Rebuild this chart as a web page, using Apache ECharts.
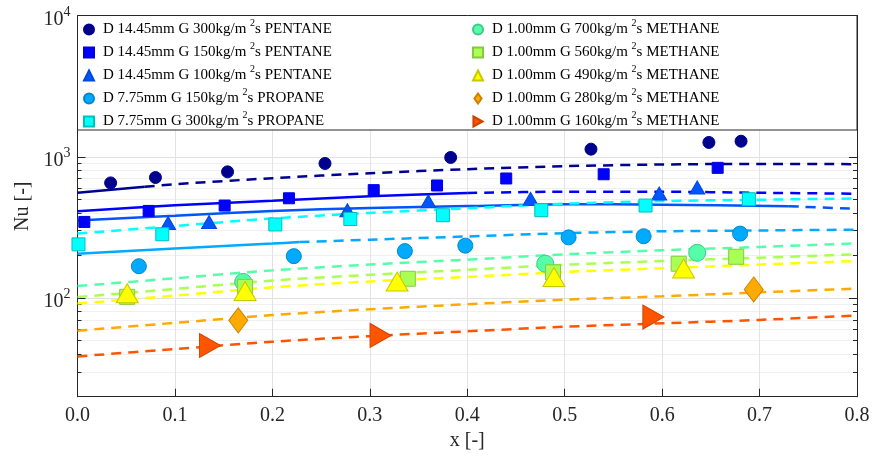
<!DOCTYPE html>
<html><head><meta charset="utf-8">
<script src="https://cdn.jsdelivr.net/npm/echarts@6/dist/echarts.min.js"></script>
<style>html,body{margin:0;padding:0;background:#fff}#c{width:874px;height:463px}</style>
</head><body><div id="c"></div>
<script>
// ---------- data ----------
const names = [
  'D 14.45mm G 300kg/m 2s PENTANE',
  'D 14.45mm G 150kg/m 2s PENTANE',
  'D 14.45mm G 100kg/m 2s PENTANE',
  'D 7.75mm G 150kg/m 2s PROPANE',
  'D 7.75mm G 300kg/m 2s PROPANE',
  'D 1.00mm G 700kg/m 2s METHANE',
  'D 1.00mm G 560kg/m 2s METHANE',
  'D 1.00mm G 490kg/m 2s METHANE',
  'D 1.00mm G 280kg/m 2s METHANE',
  'D 1.00mm G 160kg/m 2s METHANE'
];
const colors = ['#00008F','#0000FF','#0055FF','#00AAFF','#00FFFF','#55FFAA','#AAFF55','#FFFF00','#FFAA00','#FF5500'];
const edgeColors = ['#00008F','#0000E0','#0048D8','#0088CC','#00BFBF','#40C888','#88C840','#C8C800','#C88400','#D04400'];

// measured points
const s1x = [0.034, 0.080, 0.154, 0.254, 0.383, 0.527, 0.648, 0.681];
const s1y = [654, 714, 783, 898, 990, 1134, 1265, 1291];
const s2x = [0.007, 0.073, 0.151, 0.217, 0.304, 0.369, 0.440, 0.540, 0.657];
const s2y = [346, 414, 452, 509, 581, 627, 703, 753, 836];
const s3x = [0.093, 0.135, 0.277, 0.360, 0.465, 0.597, 0.636];
const s3y = [340, 346, 419, 485, 504, 550, 607];
const s4x = [0.063, 0.222, 0.336, 0.398, 0.504, 0.581, 0.680];
const s4y = [168, 198, 215, 235, 269, 274, 286];
const s5x = [0.001, 0.087, 0.203, 0.280, 0.375, 0.476, 0.583, 0.689];
const s5y = [240, 283, 332, 363, 386, 419, 452, 501];
const s6x = [0.170, 0.480, 0.636];
const s6y = [130, 175, 209];
const s7x = [0.051, 0.172, 0.339, 0.488, 0.617, 0.676];
const s7y = [102, 120, 137, 152, 175, 196];
const s8x = [0.051, 0.172, 0.328, 0.489, 0.622];
const s8y = [108, 112, 131, 141, 162];
const s9x = [0.165, 0.694];
const s9y = [69.5, 115];
const s10x = [0.136, 0.311, 0.591];
const s10y = [46.1, 54.3, 73.3];

// correlation curves
const fitX = [0, 0.1, 0.2, 0.3, 0.4, 0.5, 0.6, 0.7, 0.8];
const fit1X = [0, 0.069, 0.1, 0.2, 0.3, 0.4, 0.5, 0.6, 0.7, 0.8];
const fit1Y = [556, 613, 640, 706, 766, 818, 859, 883, 891, 888];
const fit2Y = [412, 454, 489, 526, 555, 566, 566, 557, 548];
const fit3X = [0, 0.1, 0.2, 0.3, 0.4, 0.5, 0.6, 0.73, 0.8];
const fit3Y = [354, 383, 414, 434, 448, 462, 458, 447, 428];
const fit4X = [0, 0.1, 0.2, 0.228, 0.3, 0.4, 0.5, 0.6, 0.7, 0.8];
const fit4Y = [206, 224, 243, 249, 259, 273, 288, 297, 301, 305];
const fit5Y = [286, 324, 366, 401, 432, 466, 486, 497, 507];
const fit6Y = [121.6, 138, 157, 172.6, 187, 204, 218, 230, 244];
const fit7Y = [101.6, 116, 133, 146, 158.5, 172, 183, 193, 204];
const fit8Y = [91.3, 104, 119, 131, 141, 153, 162.5, 172.5, 183];
const fit9Y = [58.7, 66.7, 75.7, 83.3, 90.4, 97.4, 102.8, 109.7, 116.6];
const fit10Y = [38.6, 43.5, 49, 53.7, 58.1, 62.6, 66.2, 70, 75.2];
const solidUntil = [0.069, 0.4, 0.73, 0.228, 0, 0, 0, 0, 0, 0];

const xTickLabels = ['0.0','0.1','0.2','0.3','0.4','0.5','0.6','0.7','0.8'];
const majorTicks = [100, 1000, 10000];
const minorTicks = [20,30,40,50,60,70,80,90,200,300,400,500,600,700,800,900,2000,3000,4000,5000,6000,7000,8000,9000];

// ---------- build ----------
const ptsX = [s1x,s2x,s3x,s4x,s5x,s6x,s7x,s8x,s9x,s10x];
const ptsY = [s1y,s2y,s3y,s4y,s5y,s6y,s7y,s8y,s9y,s10y];
const curX = [fit1X, fitX, fit3X, fit4X, fitX, fitX, fitX, fitX, fitX, fitX];
const curY = [fit1Y, fit2Y, fit3Y, fit4Y, fit5Y, fit6Y, fit7Y, fit8Y, fit9Y, fit10Y];
const symbols = ['circle','rect','triangle','circle','rect','circle','rect','triangle','diamond','triangle'];
const sizes = [12, 11, [15,13], 15, 13, 17, 15, [22,19], [19,25], [24,21]];
const rotates = [0,0,0,0,0,0,0,0,0,-90];
const legendIcons = ['circle','rect','triangle','circle','rect','circle','rect','triangle',
  'path://M5,0L10,7L5,14L0,7Z', 'path://M0,0L11,6L0,12Z'];

const FONT = "'Liberation Serif', 'Times New Roman', serif";
const zip = (a, b) => a.map((v, i) => [v, b[i]]);

const series = [];
for (let i = 0; i < 10; i++) {
  const all = zip(curX[i], curY[i]);
  const sp = solidUntil[i];
  if (sp > 0) {
    series.push({
      type: 'line', data: all.filter(p => p[0] <= sp + 1e-9), yAxisIndex: 1,
      symbol: 'none', smooth: 0.3, silent: true, z: 2,
      lineStyle: { color: colors[i], width: 2.5, type: 'solid' }
    });
  }
  series.push({
    type: 'line', data: all.filter(p => p[0] >= sp - 1e-9), yAxisIndex: 1,
    symbol: 'none', smooth: 0.3, silent: true, z: 2,
    lineStyle: { color: colors[i], width: 2.5, type: [10, 7] }
  });
}
for (let i = 0; i < 10; i++) {
  series.push({
    type: 'scatter', name: names[i], data: zip(ptsX[i], ptsY[i]), yAxisIndex: 1,
    symbol: symbols[i], symbolSize: sizes[i], symbolRotate: rotates[i], z: 5,
    itemStyle: { color: colors[i], borderColor: edgeColors[i], borderWidth: 1, opacity: 1 }
  });
}

const legendText = {
  fontFamily: FONT, fontSize: 15, color: '#000',
  rich: {
    p: { width: 4 },
    t: { fontFamily: FONT, fontSize: 15, lineHeight: 15, color: '#000' },
    s: { fontFamily: FONT, fontSize: 10, lineHeight: 10, padding: [0,0,13,0], color: '#000' }
  }
};
const legendFmt = n => '{p|}{t|' + n.replace('m 2s', 'm }{s|2}{t|s') + '}';
const legendBase = {
  orient: 'vertical', top: 18, padding: 0, itemGap: 0,
  itemWidth: 10, itemHeight: 10, selectedMode: false, z: 20,
  textStyle: legendText, formatter: legendFmt
};
const legendData = names.map((n, i) => ({ name: n, icon: legendIcons[i], itemStyle: { iconRotate: 0 } }));

const yLabelRich = {
  t: { fontFamily: FONT, fontSize: 20, lineHeight: 20, padding: [8,0,0,0], color: '#262626' },
  s: { fontFamily: FONT, fontSize: 14, lineHeight: 14, padding: [0,0,7,0], color: '#262626' }
};
const logAxis = (extra) => Object.assign({
  type: 'log', logBase: 10, min: 20, max: 10000,
  axisLine: { show: true, lineStyle: { color: '#262626', width: 1 } },
  axisLabel: { show: false },
  splitLine: { show: false }
}, extra);

const option = {
  animation: false,
  backgroundColor: '#fff',
  grid: { left: 77.5, right: 17, top: 15.7, bottom: 66.3, containLabel: false },
  xAxis: [{
    type: 'value', min: 0, max: 0.8, interval: 0.1,
    axisLine: { onZero: false, lineStyle: { color: '#262626', width: 1 } },
    axisTick: { inside: true, length: 8, lineStyle: { color: '#262626' } },
    splitLine: { show: true, lineStyle: { color: '#e3e3e3', width: 1 } },
    axisLabel: { margin: 9, fontFamily: FONT, fontSize: 20, color: '#262626',
      formatter: v => xTickLabels[Math.round(v * 10)] },
    name: 'x [-]', nameLocation: 'middle', nameGap: 34,
    nameTextStyle: { fontFamily: FONT, fontSize: 20, color: '#262626' }
  }],
  yAxis: [
    logAxis({ position: 'left',
      axisTick: { inside: true, length: 4, customValues: minorTicks, lineStyle: { color: '#262626' } },
      splitLine: { show: true, lineStyle: { color: '#f0f0f0', width: 1 } } }),
    logAxis({ position: 'left',
      axisTick: { inside: true, length: 8, customValues: majorTicks, lineStyle: { color: '#262626' } },
      splitLine: { show: true, lineStyle: { color: '#e0e0e0', width: 1 } },
      axisLabel: { show: true, margin: 7, customValues: majorTicks, rich: yLabelRich,
        formatter: v => '{t|10}{s|' + Math.round(Math.log10(v)) + '}' },
      name: 'Nu [-]', nameLocation: 'middle', nameGap: 43, nameRotate: 90,
      nameTextStyle: { fontFamily: FONT, fontSize: 20, color: '#262626' } }),
    logAxis({ position: 'right',
      axisTick: { inside: true, length: 4, customValues: minorTicks, lineStyle: { color: '#262626' } } }),
    logAxis({ position: 'right',
      axisTick: { inside: true, length: 8, customValues: majorTicks, lineStyle: { color: '#262626' } } })
  ],
  graphic: [{
    type: 'rect', z: 10, silent: true,
    shape: { x: 77.5, y: 15.5, width: 779.5, height: 114.5 },
    style: { fill: '#fff', stroke: '#262626', lineWidth: 1 }
  }],
  legend: [
    Object.assign({}, legendBase, { left: 83, data: legendData.slice(0, 5) }),
    Object.assign({}, legendBase, { left: 472, data: legendData.slice(5), symbolRotate: 0 })
  ],
  series: series
};

const chart = echarts.init(document.getElementById('c'), null, { renderer: 'canvas' });
chart.setOption(option);
</script></body></html>
